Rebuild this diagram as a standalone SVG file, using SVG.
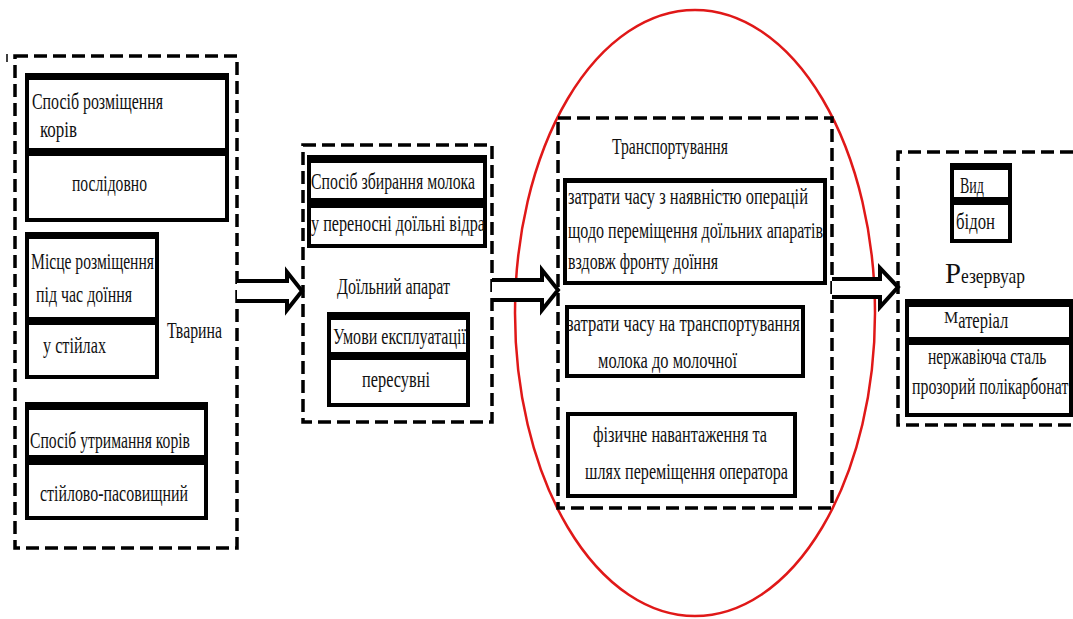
<svg xmlns="http://www.w3.org/2000/svg" width="1073" height="619" viewBox="0 0 1073 619" font-family="'Liberation Serif', 'DejaVu Serif', serif">
<style>
text{font-family:'Liberation Serif','DejaVu Serif',serif;font-size:23px;fill:#111;}
.dash{fill:none;stroke:#000;stroke-width:3.5;stroke-dasharray:13 6;}
.box{fill:#fff;stroke:#000;stroke-width:4;}
.band{fill:#000;}
.arrow{fill:#fff;stroke:#000;stroke-width:4;stroke-linejoin:miter;}
.oval{fill:none;stroke:#e01818;stroke-width:2.5;}
</style>
<rect width="1073" height="619" fill="#fff"/>
<line x1="7" y1="54" x2="7" y2="62" stroke="#000" stroke-width="1.5"/>

<g id="group-tvaryna">
<rect class="dash" x="15" y="56" width="222" height="492"/>
<text x="167" y="338" textLength="55" lengthAdjust="spacingAndGlyphs">Тварина</text>
</g>

<g id="node-sposib-rozmishchennia">
<rect class="box" x="27" y="75" width="200" height="145"/>
<rect class="band" x="25" y="73" width="204" height="7"/>
<rect class="band" x="25" y="148" width="204" height="8"/>
<text x="32" y="109" textLength="131" lengthAdjust="spacingAndGlyphs">Спосіб розміщення</text>
<text x="40" y="137" textLength="37" lengthAdjust="spacingAndGlyphs">корів</text>
<text x="72" y="191" textLength="75" lengthAdjust="spacingAndGlyphs">послідовно</text>
</g>

<g id="node-mistse-rozmishchennia">
<rect class="box" x="27" y="234" width="130" height="143"/>
<rect class="band" x="25" y="232" width="134" height="7"/>
<rect class="band" x="25" y="317" width="134" height="8"/>
<text x="31" y="269" textLength="123" lengthAdjust="spacingAndGlyphs">Місце розміщення</text>
<text x="36" y="302" textLength="96" lengthAdjust="spacingAndGlyphs">під час доїння</text>
<text x="43" y="353" textLength="63" lengthAdjust="spacingAndGlyphs">у стійлах</text>
</g>

<g id="node-sposib-utrymannia">
<rect class="box" x="27" y="404" width="179" height="114"/>
<rect class="band" x="25" y="402" width="183" height="8"/>
<rect class="band" x="25" y="455" width="183" height="10"/>
<text x="30" y="448" textLength="160" lengthAdjust="spacingAndGlyphs">Спосіб утримання корів</text>
<text x="40" y="501" textLength="148" lengthAdjust="spacingAndGlyphs">стійлово-пасовищний</text>
</g>

<g id="group-doilnyi-aparat">
<rect class="dash" x="303" y="145" width="189" height="277"/>
<text x="337" y="294" textLength="113" lengthAdjust="spacingAndGlyphs">Доїльний апарат</text>
</g>

<g id="node-sposib-zbyrannia">
<rect class="box" x="309" y="157" width="176" height="89"/>
<rect class="band" x="307" y="155" width="180" height="8"/>
<rect class="band" x="307" y="198" width="180" height="10"/>
<text x="311" y="189" textLength="164" lengthAdjust="spacingAndGlyphs">Спосіб збирання молока</text>
<text x="311" y="231" textLength="174" lengthAdjust="spacingAndGlyphs">у переносні доїльні відра</text>
</g>

<g id="node-umovy-ekspluatatsii">
<rect class="box" x="329" y="314" width="139" height="91"/>
<rect class="band" x="327" y="312" width="143" height="8"/>
<rect class="band" x="327" y="352" width="143" height="8"/>
<text x="333" y="344" textLength="133" lengthAdjust="spacingAndGlyphs">Умови експлуатації</text>
<text x="362" y="387" textLength="68" lengthAdjust="spacingAndGlyphs">пересувні</text>
</g>

<g id="group-transportuvannia">
<ellipse class="oval" cx="695" cy="313" rx="180" ry="303"/>
<rect class="dash" x="558" y="118" width="274" height="390"/>
<text x="612" y="154" textLength="116" lengthAdjust="spacingAndGlyphs">Транспортування</text>
</g>

<g id="node-zatraty-operatsii">
<rect class="box" x="565" y="180" width="260" height="103"/>
<rect class="band" x="563" y="178" width="264" height="5"/>
<text x="568" y="204" textLength="240" lengthAdjust="spacingAndGlyphs">затрати часу  з наявністю операцій</text>
<text x="568" y="238" textLength="255" lengthAdjust="spacingAndGlyphs">щодо переміщення доїльних апаратів</text>
<text x="568" y="269" textLength="150" lengthAdjust="spacingAndGlyphs">вздовж фронту доїння</text>
</g>

<g id="node-zatraty-transportuvannia">
<rect class="box" x="567" y="307" width="236" height="69"/>
<text x="567" y="331" textLength="233" lengthAdjust="spacingAndGlyphs">затрати часу   на транспортування</text>
<text x="598" y="368" textLength="139" lengthAdjust="spacingAndGlyphs">молока до молочної</text>
</g>

<g id="node-fizychne">
<rect class="box" x="568" y="414" width="227" height="82"/>
<text x="593" y="442" textLength="174" lengthAdjust="spacingAndGlyphs">фізичне навантаження та</text>
<text x="585" y="479" textLength="203" lengthAdjust="spacingAndGlyphs">шлях переміщення оператора</text>
</g>

<g id="group-rezervuar">
<path class="dash" d="M1073,152 H898 V425 H1073"/>
<text x="945" y="283"><tspan font-size="29" textLength="16" lengthAdjust="spacingAndGlyphs">Р</tspan><tspan font-size="22" textLength="64" lengthAdjust="spacingAndGlyphs">езервуар</tspan></text>
</g>

<g id="node-vyd">
<rect class="box" x="952" y="165" width="58" height="76"/>
<rect class="band" x="950" y="163" width="62" height="7"/>
<rect class="band" x="950" y="197" width="62" height="8"/>
<text x="960" y="193" textLength="24" lengthAdjust="spacingAndGlyphs">Вид</text>
<text x="956" y="229" textLength="39" lengthAdjust="spacingAndGlyphs">бідон</text>
</g>

<g id="node-material">
<rect class="box" x="907" y="301" width="164" height="114"/>
<rect class="band" x="905" y="299" width="168" height="8"/>
<rect class="band" x="905" y="337" width="168" height="8"/>
<text x="944" y="328"><tspan font-size="16" dy="-5">М</tspan><tspan dy="5" textLength="50" lengthAdjust="spacingAndGlyphs">атеріал</tspan></text>
<text transform="translate(928,364) scale(0.68,1)" x="0" y="0">нержавіюча сталь</text>
<text transform="translate(912,394) scale(0.69,1)" x="0" y="0">прозорий полікарбонат</text>
</g>

<g id="connectors">
<path class="arrow" d="M237,281 H287 V272 L302,291 L287,310 V301 H237"/>
<path class="arrow" d="M492,280 H542 V270 L558,290 L542,310 V300 H492"/>
<path class="arrow" d="M832,279 H880 V268 L898,287 L880,307 V297 H832"/>
</g>
</svg>
